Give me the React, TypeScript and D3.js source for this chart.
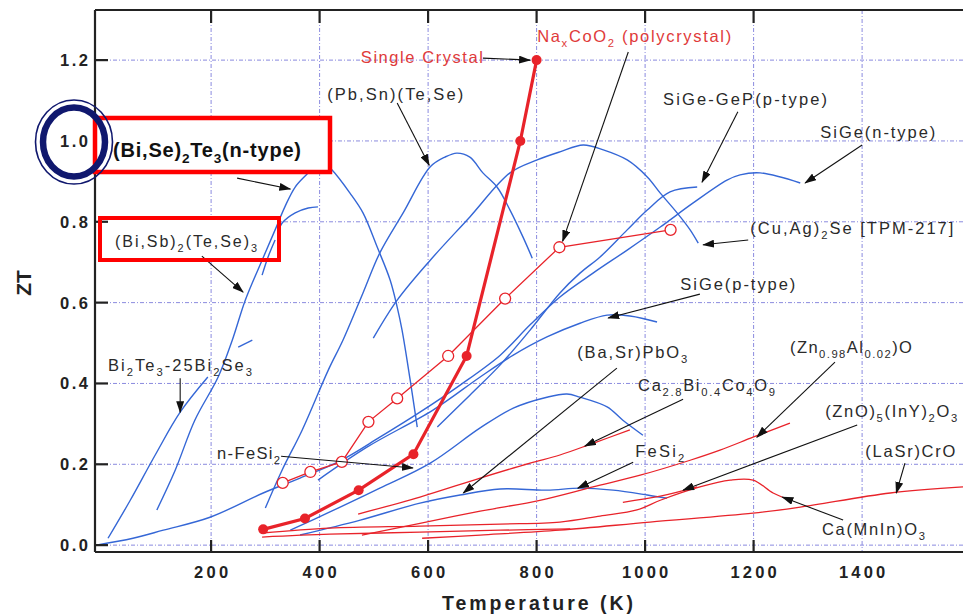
import React from "react";
import * as d3 from "d3";

type Pt = [number, number];

// Axis ticks
const xTickValues = [200, 400, 600, 800, 1000, 1200];
const xLabelValues = [200, 400, 600, 800, 1000, 1200, 1400];
const xGridValues = [200, 400, 600, 800, 1000, 1200, 1400];
const yTickValues = [0, 0.2, 0.4, 0.6, 0.8, 1.0, 1.2];
const yTickLabels = ["0.0", "0.2", "0.4", "0.6", "0.8", "1.0", "1.2"];

// Conventional materials (blue), [T (K), ZT]
const bi2te3Bi2se3: Pt[] = [[10, 0.017], [51, 0.111], [97, 0.223], [143, 0.329], [194, 0.416]];
const biSeTeNType: Pt[] = [
  [100, 0.087], [134, 0.186], [170, 0.309], [213, 0.416], [239, 0.507], [263, 0.606],
  [294, 0.705], [318, 0.78], [336, 0.837], [355, 0.886], [379, 0.921], [401, 0.953],
  [423, 0.928], [456, 0.871], [480, 0.822], [506, 0.738], [530, 0.656], [543, 0.589],
  [552, 0.532], [567, 0.408], [580, 0.292],
];
const biSbTeSeShort: Pt[] = [[250, 0.49], [276, 0.507]];
const biSbTeSe: Pt[] = [[323, 0.775], [331, 0.797], [355, 0.822], [379, 0.834], [397, 0.837]];
const biSbTeSeB: Pt[] = [[294, 0.668], [305, 0.713], [318, 0.755]];
const pbSnTeSe: Pt[] = [
  [300, 0.092], [331, 0.186], [368, 0.285], [416, 0.433], [443, 0.507], [480, 0.624],
  [511, 0.723], [554, 0.822], [604, 0.936], [631, 0.96], [653, 0.97], [677, 0.96],
  [701, 0.921], [727, 0.886], [751, 0.829], [775, 0.762], [792, 0.71],
];
const cuAgSe: Pt[] = [
  [499, 0.512], [543, 0.606], [604, 0.705], [677, 0.812], [751, 0.921], [801, 0.953],
  [843, 0.973], [886, 0.99], [923, 0.978], [967, 0.953], [1004, 0.911], [1028, 0.871],
  [1059, 0.822], [1083, 0.78], [1098, 0.747],
];
const siGeGeP: Pt[] = [
  [617, 0.292], [677, 0.371], [733, 0.446], [788, 0.532], [843, 0.624], [880, 0.673],
  [917, 0.713], [967, 0.78], [1004, 0.829], [1046, 0.874], [1096, 0.886],
];
const siGeN: Pt[] = [
  [-12, 0], [56, 0.017], [112, 0.037], [198, 0.069], [296, 0.129], [364, 0.166],
  [440, 0.21], [511, 0.267], [585, 0.329], [659, 0.396], [733, 0.47], [788, 0.545],
  [843, 0.614], [904, 0.673], [967, 0.73], [1028, 0.787], [1088, 0.846], [1151, 0.903],
  [1175, 0.916], [1212, 0.921], [1286, 0.896],
];
const siGeP: Pt[] = [
  [397, 0.161], [488, 0.243], [609, 0.334], [696, 0.416], [757, 0.47], [819, 0.515],
  [880, 0.549], [930, 0.569], [972, 0.567], [1022, 0.552],
];
const nFeSi2: Pt[] = [
  [346, 0.037], [419, 0.082], [511, 0.141], [604, 0.203], [696, 0.29], [757, 0.339],
  [819, 0.366], [856, 0.374], [880, 0.366], [930, 0.342], [959, 0.309], [996, 0.272],
];
const feSi2: Pt[] = [
  [364, 0.025], [475, 0.062], [585, 0.104], [659, 0.124], [733, 0.139], [819, 0.136],
  [880, 0.141], [941, 0.136], [1004, 0.124], [1040, 0.116],
];

// Oxides (red), [T (K), ZT]
const ca28Bi04Co4O9: Pt[] = [
  [471, 0.077], [585, 0.119], [696, 0.166], [788, 0.203], [843, 0.223], [904, 0.252], [972, 0.285],
];
const zn098Al002O: Pt[] = [
  [478, 0.025], [585, 0.054], [696, 0.084], [806, 0.111], [904, 0.144], [991, 0.173],
  [1083, 0.21], [1138, 0.235], [1199, 0.267], [1267, 0.302],
];
const caMnInO3: Pt[] = [
  [294, 0.03], [419, 0.042], [585, 0.047], [733, 0.052], [843, 0.057], [917, 0.072],
  [985, 0.087], [1028, 0.111], [1101, 0.144], [1157, 0.161], [1199, 0.161], [1236, 0.129],
  [1267, 0.111],
];
const caMnInO3Low: Pt[] = [[294, 0.02], [419, 0.027], [585, 0.032], [733, 0.037], [862, 0.04]];
const laSrCrO: Pt[] = [
  [589, 0.017], [696, 0.025], [843, 0.037], [1009, 0.057], [1199, 0.079], [1286, 0.094],
  [1452, 0.129], [1586, 0.144],
];
const znO5InY2O3: Pt[] = [[959, 0.106], [1028, 0.121], [1096, 0.144]];

// Na_xCoO2
const naxCoO2Single: Pt[] = [
  [296, 0.039], [373, 0.066], [472, 0.136], [573, 0.225], [671, 0.468], [770, 1.0], [800, 1.2],
];
const naxCoO2Poly: Pt[] = [
  [332, 0.154], [383, 0.181], [441, 0.206], [490, 0.305], [543, 0.363], [637, 0.468],
  [742, 0.61], [842, 0.737], [1047, 0.78],
];

const blueSeries = [bi2te3Bi2se3, biSeTeNType, biSbTeSeShort, biSbTeSe, biSbTeSeB, pbSnTeSe, cuAgSe, siGeGeP, siGeN, siGeP, nFeSi2, feSi2];
const redSeries = [ca28Bi04Co4O9, zn098Al002O, caMnInO3, caMnInO3Low, laSrCrO, znO5InY2O3];

// Callouts: label text, label anchor and arrow (all in T/ZT units)
interface Callout { text?: string; red?: boolean; at?: Pt; width?: number; from: Pt; to: Pt }
const callouts: Callout[] = [
  { text: "Single Crystal", red: true, at: [476, 1.193], width: 122, from: [701, 1.205], to: [788, 1.2] },
  { text: "Na_{x}CoO_{2} (polycrystal)", red: true, at: [801, 1.245], width: 194, from: [969, 1.22], to: [848, 0.752] },
  { text: "(Pb,Sn)(Te,Se)", at: [414, 1.101], width: 136, from: [543, 1.094], to: [602, 0.94] },
  { text: "SiGe-GeP(p-type)", at: [1033, 1.089], width: 164, from: [1171, 1.072], to: [1105, 0.898] },
  { text: "SiGe(n-type)", at: [1323, 1.007], width: 115, from: [1400, 0.99], to: [1295, 0.896] },
  { text: "(Cu,Ag)_{2}Se [TPM-217]", at: [1194, 0.77], width: 203, from: [1190, 0.755], to: [1107, 0.743] },
  { text: "SiGe(p-type)", at: [1065, 0.631], width: 115, from: [1101, 0.621], to: [932, 0.562] },
  { from: [183, 0.715], to: [259, 0.626] },
  { from: [248, 0.908], to: [346, 0.881] },
  { text: "Bi_{2}Te_{3}-25Bi_{2}Se_{3}", at: [10, 0.431], width: 144, from: [143, 0.413], to: [143, 0.329] },
  { text: "n-FeSi_{2}", at: [211, 0.213], width: 63, from: [329, 0.22], to: [572, 0.191] },
  { text: "(Ba,Sr)PbO_{3}", at: [875, 0.463], width: 110, from: [948, 0.438], to: [665, 0.129] },
  { text: "Ca_{2.8}Bi_{0.4}Co_{4}O_{9}", at: [987, 0.381], width: 137, from: [1070, 0.361], to: [889, 0.245] },
  { text: "FeSi_{2}", at: [982, 0.218], width: 49, from: [978, 0.205], to: [876, 0.141] },
  { text: "(Zn_{0.98}Al_{0.02})O", at: [1267, 0.475], width: 122, from: [1350, 0.453], to: [1206, 0.267] },
  { text: "(ZnO)_{5}(InY)_{2}O_{3}", at: [1332, 0.317], width: 132, from: [1391, 0.297], to: [1070, 0.136] },
  { text: "(LaSr)CrO", at: [1406, 0.218], width: 90, from: [1479, 0.203], to: [1463, 0.129] },
  { text: "Ca(MnIn)O_{3}", at: [1326, 0.025], width: 103, from: [1365, 0.062], to: [1253, 0.119] },
];

const FONT = "'Liberation Sans', Arial, Helvetica, sans-serif";
const BLUE = "#3567d6";
const RED = "#e8232a";
const GRID = "#7f7fdc";

function parts(s: string): { t: string; sub: boolean }[] {
  const out: { t: string; sub: boolean }[] = [];
  const re = /_\{([^}]*)\}/g;
  let last = 0;
  let m: RegExpExecArray | null;
  while ((m = re.exec(s))) {
    if (m.index > last) out.push({ t: s.slice(last, m.index), sub: false });
    out.push({ t: m[1], sub: true });
    last = m.index + m[0].length;
  }
  if (last < s.length) out.push({ t: s.slice(last), sub: false });
  return out;
}

function RichText({ text, x, y, size, fill, weight, width }: { text: string; x: number; y: number; size: number; fill: string; weight?: string; width?: number }) {
  const ps = parts(text);
  const shift = size * 0.32;
  let down = false;
  return (
    <text x={x} y={y} fontSize={size} fill={fill} fontFamily={FONT} fontWeight={weight || "normal"}
      textLength={width} lengthAdjust={width ? "spacing" : undefined}>
      {ps.map((p, i) => {
        let dy = 0;
        if (p.sub && !down) { dy = shift; down = true; }
        else if (!p.sub && down) { dy = -shift; down = false; }
        return (
          <tspan key={i} dy={dy} fontSize={p.sub ? size * 0.68 : size}>{p.t}</tspan>
        );
      })}
    </text>
  );
}

export default function App() {
  const W = 963, H = 614;
  const x = d3.scaleLinear().domain([-14, 1586]).range([95, 963]);
  const y = d3.scaleLinear().domain([-0.017, 1.324]).range([552, 10]);
  const line = d3.line<Pt>().x((d) => x(d[0])).y((d) => y(d[1])).curve(d3.curveCatmullRom.alpha(0.5));
  const straight = d3.line<Pt>().x((d) => x(d[0])).y((d) => y(d[1]));
  const [x0, x1] = x.range();
  const [yb, yt] = y.range();

  return (
    <svg width={W} height={H} style={{ position: "absolute", left: 0, top: 0, background: "#fff" }}>
      <defs>
        <marker id="ah" viewBox="0 0 12 8" refX="11" refY="4" markerWidth="12" markerHeight="8"
          markerUnits="userSpaceOnUse" orient="auto">
          <path d="M0,0 L12,4 L0,8 Z" fill="#111" />
        </marker>
      </defs>
      <rect x={0} y={0} width={W} height={H} fill="#fff" />

      {/* grid */}
      <g stroke={GRID} strokeWidth={1} strokeDasharray="4 2 1 2" opacity={0.9}>
        {xGridValues.map((v) => (
          <line key={"gx" + v} x1={x(v)} x2={x(v)} y1={yt} y2={yb} />
        ))}
        {yTickValues.map((v) => (
          <line key={"gy" + v} x1={x0} x2={x1} y1={y(v)} y2={y(v)} />
        ))}
      </g>

      {/* lower callout box background */}
      <rect x={100} y={218} width={179} height={42} fill="#fff" />

      {/* conventional materials */}
      <g fill="none" stroke={BLUE} strokeWidth={1.4} strokeLinejoin="round">
        {blueSeries.map((s, i) => (
          <path key={"b" + i} d={line(s) || ""} />
        ))}
      </g>

      {/* oxides */}
      <g fill="none" stroke={RED} strokeWidth={1.3} strokeLinejoin="round">
        {redSeries.map((s, i) => (
          <path key={"r" + i} d={line(s) || ""} />
        ))}
      </g>

      {/* Na_xCoO2 polycrystal */}
      <path d={straight(naxCoO2Poly) || ""} fill="none" stroke={RED} strokeWidth={1.3} />
      {naxCoO2Poly.map((d, i) => (
        <circle key={"pc" + i} cx={x(d[0])} cy={y(d[1])} r={5.5} fill="#fff" stroke={RED} strokeWidth={1.3} />
      ))}

      {/* Na_xCoO2 single crystal */}
      <path d={straight(naxCoO2Single) || ""} fill="none" stroke={RED} strokeWidth={3.2} />
      {naxCoO2Single.map((d, i) => (
        <circle key={"sc" + i} cx={x(d[0])} cy={y(d[1])} r={5} fill={RED} />
      ))}

      {/* frame and ticks */}
      <g stroke="#222" strokeWidth={2.2}>
        <line x1={x0} x2={x0} y1={yt} y2={yb} />
        <line x1={x0} x2={x1 + 5} y1={yt} y2={yt} />
        <line x1={x0} x2={x1 + 5} y1={yb} y2={yb} />
        {xTickValues.map((v) => (
          <g key={"tx" + v}>
            <line x1={x(v)} x2={x(v)} y1={yb} y2={yb - 12} />
            <line x1={x(v)} x2={x(v)} y1={yt} y2={yt + 13} />
          </g>
        ))}
        {yTickValues.map((v) => (
          <line key={"ty" + v} x1={x0} x2={x0 + 13} y1={y(v)} y2={y(v)} />
        ))}
      </g>
      <g fontFamily={FONT} fontWeight="bold" fill="#222">
        {xLabelValues.map((v) => {
          const s = String(v);
          const w = s.length === 3 ? 34 : 46;
          return (
            <text key={"lx" + v} x={x(v) - w / 2} y={578} fontSize={16.5} textLength={w} lengthAdjust="spacing">{s}</text>
          );
        })}
        {yTickValues.map((v, i) => (
          <text key={"ly" + v} x={60} y={y(v) + 6} fontSize={16.5} textLength={28} lengthAdjust="spacing">{yTickLabels[i]}</text>
        ))}
        <text x={442} y={610} fontSize={19.5} textLength={191} lengthAdjust="spacing">Temperature (K)</text>
        <text transform="translate(31,283) rotate(-90)" fontSize={21} textAnchor="middle">ZT</text>
      </g>

      {/* callouts */}
      {callouts.map((c, i) => (
        <g key={"c" + i}>
          <line x1={x(c.from[0])} y1={y(c.from[1])} x2={x(c.to[0])} y2={y(c.to[1])}
            stroke="#111" strokeWidth={1.1} markerEnd="url(#ah)" />
          {c.text && c.at && (
            <RichText text={c.text} x={x(c.at[0])} y={y(c.at[1])} size={16.5}
              fill={c.red ? "#e03a3a" : "#2a2a2a"} width={c.width} />
          )}
        </g>
      ))}

      {/* highlight boxes */}
      <rect x={100} y={218} width={179} height={42} fill="none" stroke="#ff0000" strokeWidth={4} />
      <RichText text="(Bi,Sb)_{2}(Te,Se)_{3}" x={115} y={247} size={16} fill="#2a2a2a" width={142} />
      <rect x={95} y={118} width={235} height={54} fill="#fff" stroke="#ff0000" strokeWidth={4.5} />
      <RichText text="(Bi,Se)_{2}Te_{3}(n-type)" x={113} y={157} size={20} fill="#111" weight="bold" width={188} />

      {/* ring around 1.0 */}
      <ellipse cx={74} cy={142} rx={38.5} ry={42} fill="none" stroke="#10186e" strokeWidth={1.6} />
      <ellipse cx={74} cy={142} rx={31} ry={34.5} fill="none" stroke="#10186e" strokeWidth={6.5} />
    </svg>
  );
}
